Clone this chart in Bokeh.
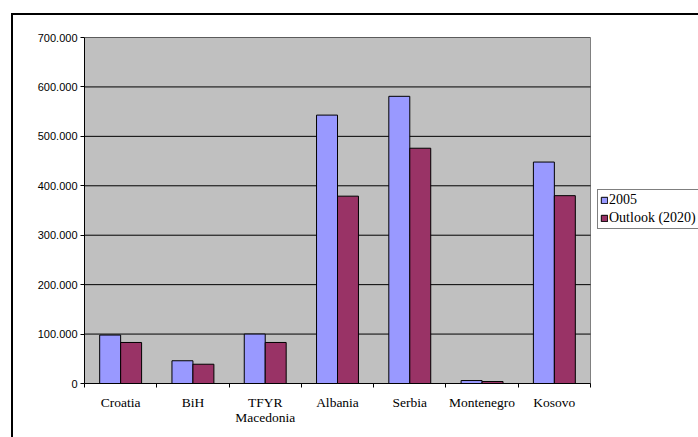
import numpy as np
from bokeh.plotting import figure
from bokeh.models import (ColumnDataSource, Range1d, FixedTicker, CustomJSTickFormatter,
                          Legend, LegendItem, InlineStyleSheet)
from bokeh.transform import dodge
from bokeh.embed import file_html
from bokeh.resources import INLINE

# Data
countries = ["Croatia", "BiH", "TFYR\nMacedonia", "Albania", "Serbia", "Montenegro", "Kosovo"]
values_2005 = [98000, 46000, 100000, 543000, 581000, 6000, 448000]
values_2020 = [83000, 39000, 83000, 379000, 476000, 4000, 380000]
y_ticks = [0, 100000, 200000, 300000, 400000, 500000, 600000, 700000]

n = len(countries)
y_max = y_ticks[-1]
centers = list(np.arange(n) + 0.5)
bounds = list(np.arange(n + 1).astype(float))

# Layout in pixels: the frame runs to the right page edge so the legend
# can sit to the right of the grey plot area without being clipped.
W, H = 698, 437
left, top, bottom = 84, 37, 54
area_w = 506                       # width of the grey plot area
frame_w = W - left
x_end = n * frame_w / area_w

src = ColumnDataSource(dict(x=centers, v2005=values_2005, v2020=values_2020))
grid_src = ColumnDataSource(dict(y=y_ticks, x0=[0] * len(y_ticks), x1=[n] * len(y_ticks)))

p = figure(width=W, height=H, output_backend="svg", toolbar_location=None,
           x_range=Range1d(0, x_end), y_range=Range1d(0, y_max),
           min_border_left=left, min_border_right=0, min_border_top=top,
           min_border_bottom=bottom)

p.background_fill_color = "white"
p.border_fill_color = "white"
p.outline_line_color = None
p.grid.visible = False

# Grey plot area with its grey border, and black gridlines
p.quad(left=0, right=n, bottom=0, top=y_max, fill_color="#C0C0C0",
       line_color="#808080", line_width=1, level="underlay")
p.segment(x0="x0", x1="x1", y0="y", y1="y", source=grid_src,
          line_color="black", line_width=1, level="underlay")

# Y axis
yax = p.yaxis[0]
yax.ticker = FixedTicker(ticks=y_ticks)
yax.formatter = CustomJSTickFormatter(code="""
    return tick == 0 ? "0" : (tick / 1000).toFixed(0) + ".000";
""")
yax.major_tick_out = 4
yax.major_tick_in = 0
yax.minor_tick_out = 0
yax.minor_tick_in = 0
yax.major_label_standoff = 3
yax.major_label_text_font = "Liberation Sans"
yax.major_label_text_font_size = "11px"
yax.major_label_text_color = "black"
yax.axis_line_color = "black"
yax.major_tick_line_color = "black"

# X axis: labels at category centers, ticks at category boundaries
xax = p.xaxis[0]
xax.bounds = (0, n)
xax.ticker = FixedTicker(ticks=centers, minor_ticks=bounds)
xax.major_label_overrides = {c: name for c, name in zip(centers, countries)}
xax.major_tick_out = 0
xax.major_tick_in = 0
xax.minor_tick_out = 4
xax.minor_tick_in = 0
xax.minor_tick_line_color = "black"
xax.major_label_standoff = 7
xax.major_label_text_font = "Liberation Serif"
xax.major_label_text_font_size = "13.5px"
xax.major_label_text_line_height = 1.0
xax.major_label_text_color = "black"
xax.axis_line_color = "black"

# Bars
bw = 0.29
r1 = p.vbar(x=dodge("x", -bw / 2, range=p.x_range), top="v2005", width=bw, bottom=0,
            source=src, fill_color="#9999FF", line_color="black", line_width=1)
r2 = p.vbar(x=dodge("x", bw / 2, range=p.x_range), top="v2020", width=bw, bottom=0,
            source=src, fill_color="#993366", line_color="black", line_width=1)

legend = Legend(items=[LegendItem(label="2005", renderers=[r1]),
                       LegendItem(label="Outlook (2020)", renderers=[r2])],
                location=(area_w + 7, 154))
legend.label_text_font = "Liberation Serif"
legend.label_text_font_size = "14px"
legend.label_text_color = "black"
legend.glyph_width = 8
legend.glyph_height = 8
legend.label_standoff = 1
legend.label_height = 12
legend.spacing = 2
legend.padding = 2
legend.margin = 0
legend.border_line_color = "black"
legend.border_line_width = 1
legend.background_fill_color = "white"
legend.background_fill_alpha = 1
p.add_layout(legend, "center")

# Outer chart border (only its top and left edges fall inside the page)
p.stylesheets = [InlineStyleSheet(css="""
:host::after {
    content: "";
    position: absolute;
    left: 11px; top: 13px; width: 687px; height: 424px;
    border-top: 2px solid black;
    border-left: 2px solid black;
    box-sizing: border-box;
    pointer-events: none;
}
""")]

open("out.html", "w").write(file_html(p, INLINE))
